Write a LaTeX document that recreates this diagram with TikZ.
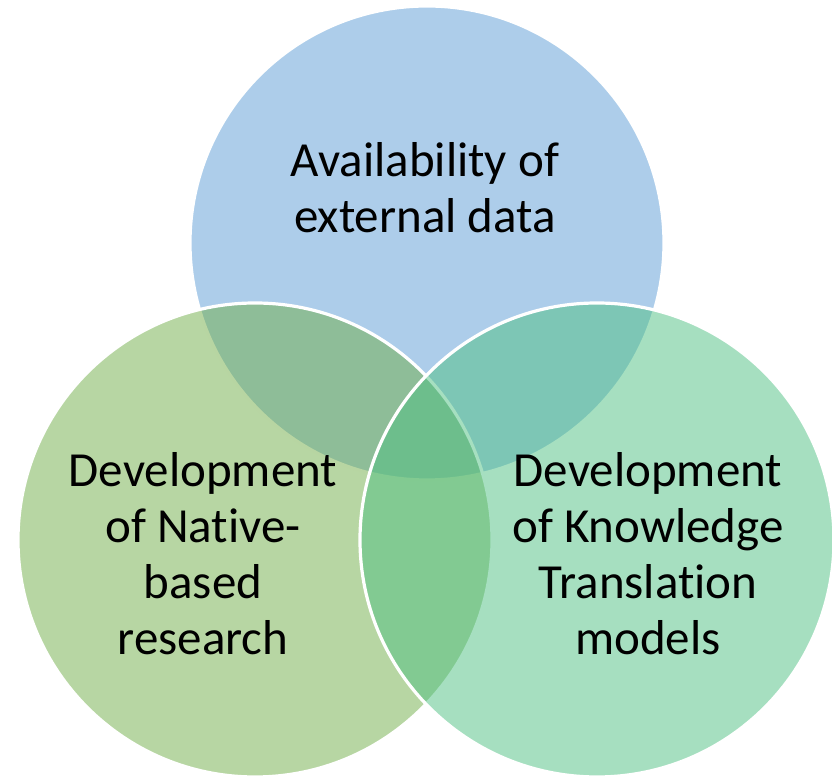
\documentclass[tikz,border=0pt]{standalone}
\usepackage{fontspec}
\setmainfont{Carlito}[Ligatures=NoCommon]
\definecolor{vennblue}{RGB}{91,155,213}
\definecolor{venngreen}{RGB}{112,173,71}
\definecolor{vennteal}{RGB}{78,192,130}
\begin{document}
\begin{tikzpicture}[x=0.5pt,y=-0.5pt,
        venn/.style={draw=white,line width=1.6pt,fill opacity=0.5},
        label/.style={align=center,font=\fontsize{24.5}{28}\selectfont,
            text=black,inner sep=0pt}]
\useasboundingbox (0,0) rectangle (832,779);

\draw[venn, fill=vennblue] (427,243) circle (237);
\draw[venn, fill=venngreen] (255,540) circle (237);
\draw[venn, fill=vennteal] (597,540) circle (237);

\node[label] (avail) at (425,188) {Availability of\\external data};
\node[label] (native) at (203,554) {Development\\of Native-\\based\\research};
\node[label] (knowledge) at (648,554) {Development\\of Knowledge\\Translation\\models};
\end{tikzpicture}
\end{document}
